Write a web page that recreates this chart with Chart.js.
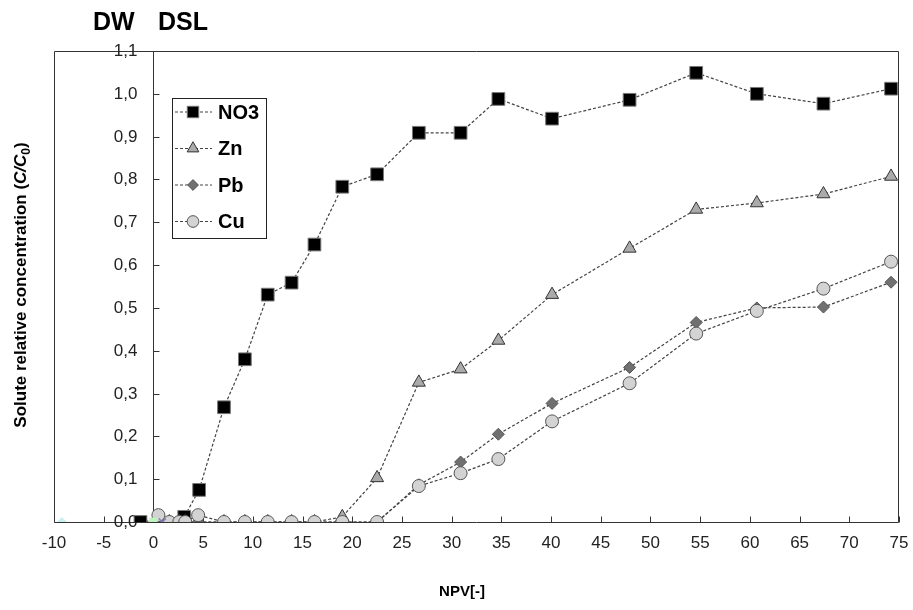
<!DOCTYPE html>
<html>
<head>
<meta charset="utf-8">
<script src="https://cdn.jsdelivr.net/npm/chart.js@4/dist/chart.umd.min.js"></script>
<style>
html,body{margin:0;padding:0;background:#fff;}
#wrap{width:913px;height:610px;}
</style>
</head>
<body>
<div id="wrap"><canvas id="c" width="913" height="610"></canvas></div>
<script>
// ---------- data ----------
const seriesNames = ['NO3', 'Zn', 'Pb', 'Cu'];
const no3X = [-1.3, 3.1, 4.6, 7.1, 9.2, 11.5, 13.9, 16.2, 19.0, 22.5, 26.7, 30.9, 34.7, 40.1, 47.9, 54.6, 60.7, 67.4, 74.2];
const no3Y = [0, 0.012, 0.075, 0.268, 0.38, 0.531, 0.559, 0.648, 0.783, 0.812, 0.909, 0.909, 0.988, 0.942, 0.986, 1.049, 1.0, 0.977, 1.012];
const metalX = [0.5, 1.6, 2.6, 3.2, 4.5, 7.1, 9.2, 11.5, 13.9, 16.2, 19.0, 22.5, 26.7, 30.9, 34.7, 40.1, 47.9, 54.6, 60.7, 67.4, 74.2];
const znY = [0, 0, 0, 0, 0, 0, 0, 0, 0, 0, 0.012, 0.103, 0.326, 0.357, 0.424, 0.531, 0.639, 0.73, 0.745, 0.766, 0.807];
const pbY = [0, 0, 0, 0, 0, 0, 0, 0, 0, 0, 0, 0, 0.087, 0.14, 0.205, 0.277, 0.361, 0.466, 0.5, 0.502, 0.56];
const cuY = [0.016, 0, 0, 0, 0.016, 0, 0, 0, 0, 0, 0, 0, 0.084, 0.114, 0.147, 0.235, 0.324, 0.44, 0.493, 0.545, 0.608];
const extraCyanX = [-9.2], extraCyanY = [0];
const extraGreenX = [0.0], extraGreenY = [0];
const extraPurpleX = [0.9], extraPurpleY = [0];
const xTickValues = [-10, -5, 0, 5, 10, 15, 20, 25, 30, 35, 40, 45, 50, 55, 60, 65, 70, 75];
const yTickValues = [0, 0.1, 0.2, 0.3, 0.4, 0.5, 0.6, 0.7, 0.8, 0.9, 1.0, 1.1];
const yTickLabels = ['0,0', '0,1', '0,2', '0,3', '0,4', '0,5', '0,6', '0,7', '0,8', '0,9', '1,0', '1,1'];
const headLabels = ['DW', 'DSL'];
const xTitle = 'NPV[-]';
const yTitleParts = ['Solute relative concentration (', 'C/C', '0', ')'];

// ---------- styles ----------
const FONT = '"Liberation Sans", Arial, Helvetica, sans-serif';
const LINE = '#444444';
const DASH = [3, 2];
const styles = [
  {pointStyle: 'rect', radius: 9, fill: '#000000', border: '#777777'},
  {pointStyle: 'triangle', radius: 7.5, fill: '#ababab', border: '#333333'},
  {pointStyle: 'rectRot', radius: 6, fill: '#707070', border: '#555555'},
  {pointStyle: 'circle', radius: 6.5, fill: '#d3d3d3', border: '#555555'}
];

function pts(xs, ys) { return xs.map((x, i) => ({x: x, y: ys[i]})); }

function lineDs(name, xs, ys, st, order) {
  return {
    label: name, data: pts(xs, ys), showLine: true,
    borderColor: LINE, borderWidth: 1.2, borderDash: DASH,
    pointStyle: st.pointStyle, pointRadius: st.radius, pointHoverRadius: st.radius,
    pointBackgroundColor: st.fill, pointBorderColor: st.border, pointBorderWidth: 1,
    order: order
  };
}
function extraDs(xs, ys, style, radius, fill, border) {
  return {
    label: '', data: pts(xs, ys), showLine: false,
    pointStyle: style, pointRadius: radius, pointBackgroundColor: fill,
    pointBorderColor: border, pointBorderWidth: style === 'crossRot' ? 1.5 : 0, order: -1
  };
}

const overlay = {
  id: 'overlay',
  beforeDatasetsDraw(chart) {
    const ctx = chart.ctx, a = chart.chartArea, xs = chart.scales.x, ys = chart.scales.y;
    ctx.save();
    ctx.strokeStyle = '#333';
    ctx.lineWidth = 1;
    const L = Math.round(a.left) + 0.5, T = Math.round(a.top) + 0.5;
    const R = Math.round(a.right) - 0.5, B = Math.round(a.bottom) + 0.5;
    ctx.beginPath();
    ctx.moveTo(L, B); ctx.lineTo(L, T); ctx.lineTo(R, T); ctx.lineTo(R, B); ctx.lineTo(L, B);
    ctx.stroke();
    const x0 = Math.round(xs.getPixelForValue(0)) + 0.5;
    ctx.beginPath(); ctx.moveTo(x0, T); ctx.lineTo(x0, B); ctx.stroke();
    // y ticks + labels
    ctx.font = '17px ' + FONT;
    ctx.fillStyle = '#222';
    ctx.textAlign = 'right';
    ctx.textBaseline = 'middle';
    yTickValues.forEach((v, i) => {
      const py = Math.round(ys.getPixelForValue(v)) + 0.5;
      ctx.beginPath(); ctx.moveTo(x0, py); ctx.lineTo(x0 + 6, py); ctx.stroke();
      ctx.fillText(yTickLabels[i], x0 - 16, py);
    });
    // x ticks
    xTickValues.forEach(v => {
      const px = Math.round(xs.getPixelForValue(v)) + 0.5;
      ctx.beginPath(); ctx.moveTo(px, B); ctx.lineTo(px, B - 6); ctx.stroke();
    });
    ctx.restore();
  },
  afterDraw(chart) {
    const ctx = chart.ctx;
    ctx.save();
    // header labels
    ctx.fillStyle = '#000';
    ctx.font = 'bold 25px ' + FONT;
    ctx.textAlign = 'left';
    ctx.textBaseline = 'alphabetic';
    ctx.fillText(headLabels[0], 93, 30);
    ctx.fillText(headLabels[1], 158, 30);
    // x title
    ctx.font = 'bold 15px ' + FONT;
    ctx.textAlign = 'center';
    ctx.textBaseline = 'middle';
    ctx.fillText(xTitle, 462, 592);
    // y title (rotated, italic C/C, subscript 0)
    const fMain = 'bold 17px ' + FONT, fIt = 'italic bold 17px ' + FONT, fSub = 'bold 12px ' + FONT;
    const fonts = [fMain, fIt, fSub, fMain];
    const offs = [0, 0, 4, 0];
    let total = 0;
    const widths = yTitleParts.map((t, i) => { ctx.font = fonts[i]; const w = ctx.measureText(t).width; total += w; return w; });
    ctx.translate(26, 285);
    ctx.rotate(-Math.PI / 2);
    ctx.textAlign = 'left';
    ctx.textBaseline = 'alphabetic';
    let cx = -total / 2;
    yTitleParts.forEach((t, i) => { ctx.font = fonts[i]; ctx.fillText(t, cx, offs[i]); cx += widths[i]; });
    ctx.setTransform(1, 0, 0, 1, 0, 0);
    // legend
    ctx.strokeStyle = '#222';
    ctx.lineWidth = 1;
    ctx.strokeRect(172.5, 98.5, 94, 140);
    seriesNames.forEach((name, i) => {
      const yy = 112 + i * 36.5;
      ctx.save();
      ctx.strokeStyle = LINE; ctx.lineWidth = 1.2; ctx.setLineDash(DASH);
      ctx.beginPath(); ctx.moveTo(175, yy); ctx.lineTo(212, yy); ctx.stroke();
      ctx.restore();
      const st = styles[i];
      ctx.save();
      ctx.fillStyle = st.fill; ctx.strokeStyle = st.border; ctx.lineWidth = 1;
      Chart.helpers.drawPoint(ctx, {pointStyle: st.pointStyle, radius: st.radius * 0.9, rotation: 0, borderWidth: 1}, 193, yy);
      ctx.restore();
      ctx.fillStyle = '#000';
      ctx.font = 'bold 20px ' + FONT;
      ctx.textAlign = 'left';
      ctx.textBaseline = 'middle';
      ctx.fillText(name, 218, yy + 1);
    });
    ctx.restore();
  }
};

Chart.defaults.font.family = FONT;

new Chart(document.getElementById('c'), {
  type: 'scatter',
  data: {
    datasets: [
      lineDs(seriesNames[0], no3X, no3Y, styles[0], 3),
      lineDs(seriesNames[1], metalX, znY, styles[1], 2),
      lineDs(seriesNames[2], metalX, pbY, styles[2], 1),
      lineDs(seriesNames[3], metalX, cuY, styles[3], 0),
      extraDs(extraCyanX, extraCyanY, 'rectRot', 5, '#c8f2f2', '#c8f2f2'),
      extraDs(extraGreenX, extraGreenY, 'rect', 6, '#bff3bf', '#bff3bf'),
      extraDs(extraPurpleX, extraPurpleY, 'crossRot', 5, '#7f7fc0', '#7f7fc0')
    ]
  },
  options: {
    responsive: false,
    animation: false,
    layout: {padding: {left: 54, right: 14, top: 51, bottom: 0}},
    plugins: {legend: {display: false}, tooltip: {enabled: false}},
    scales: {
      x: {
        type: 'linear', min: -10, max: 75,
        grid: {display: false}, border: {display: false},
        afterBuildTicks(s) { s.ticks = xTickValues.map(v => ({value: v})); },
        afterFit(s) { s.height = 88; },
        ticks: {autoSkip: false, maxRotation: 0, padding: 3, color: '#222', font: {size: 17, family: FONT}}
      },
      y: {
        type: 'linear', min: 0, max: 1.1, position: {x: 0},
        grid: {display: false}, border: {display: false},
        afterBuildTicks(s) { s.ticks = yTickValues.map(v => ({value: v})); },
        ticks: {display: false}
      }
    }
  },
  plugins: [overlay]
});
</script>
</body>
</html>
